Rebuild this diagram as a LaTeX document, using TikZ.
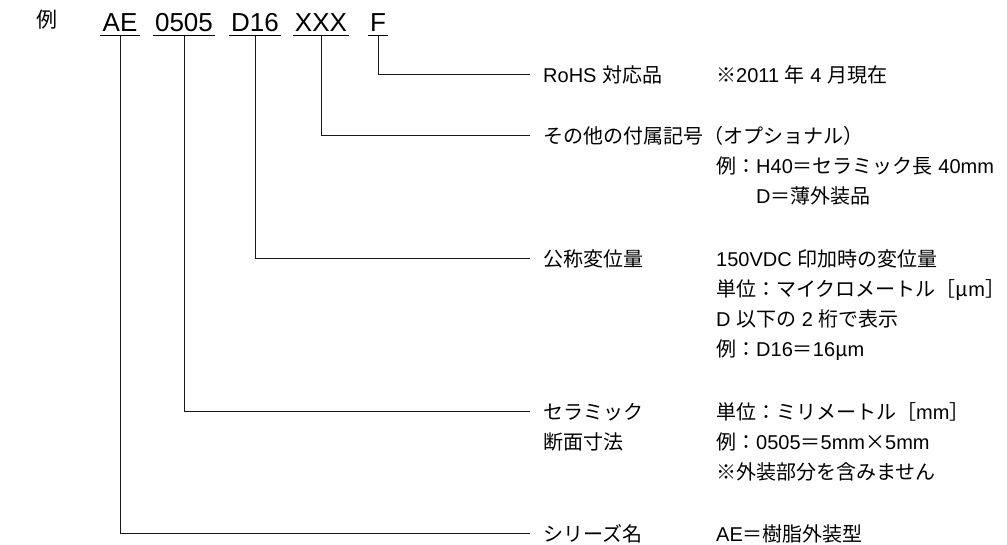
\documentclass[tikz,border=0pt]{standalone}
\usepackage{fontspec}
\setmainfont{Liberation Sans}
\newfontfamily\jp{Noto Sans CJK JP}
\begin{document}
\begin{tikzpicture}[x=1pt,y=-1pt,
  code/.style={inner xsep=2pt,inner ysep=0pt,anchor=base,font=\fontsize{26}{30}\selectfont},
  lbl/.style={inner sep=0pt,anchor=base west,font=\fontsize{20}{24}\selectfont},
  conn/.style={line width=1pt,draw=black!90},
  uline/.style={line width=1.6pt,draw=black}]
\useasboundingbox (0,0) rectangle (1007,544);

% heading
\node[inner sep=0pt,anchor=base west,font=\jp\fontsize{21}{24}\selectfont] (rei) at (36,27) {例};

% code parts
\node[code] (cAE) at (120,31) {AE};
\node[code] (c0505) at (184,31) {0505};
\node[code] (cD16) at (255,31) {D16};
\node[code] (cXXX) at (321,31) {XXX};
\node[code] (cF) at (378,31) {F};

\foreach \n in {cAE,c0505,cD16,cXXX,cF}{
  \draw[uline] ([yshift=-4.5pt]\n.base west) -- ([yshift=-4.5pt]\n.base east);
}

% connector ends
\coordinate (eF) at (530,74);
\coordinate (eXXX) at (530,135);
\coordinate (eD16) at (530,258);
\coordinate (e0505) at (530,411);
\coordinate (eAE) at (530,533);

\draw[conn] ([yshift=-4.5pt]cF.base) |- (eF);
\draw[conn] ([yshift=-4.5pt]cXXX.base) |- (eXXX);
\draw[conn] ([yshift=-4.5pt]cD16.base) |- (eD16);
\draw[conn] ([yshift=-4.5pt]c0505.base) |- (e0505);
\draw[conn] ([yshift=-4.5pt]cAE.base) |- (eAE);

% F
\node[lbl] (lF) at (543,82) {RoHS {\jp 対応品}};
\node[lbl] (nF) at (716,82) {{\jp ※}2011 {\jp 年} 4 {\jp 月現在}};

% XXX
\node[lbl] (lXXX) at (543,143) {\jp その他の付属記号（オプショナル）};
\node[lbl] (nXXXa) at (716,173) {{\jp 例：}H40{\jp ＝セラミック長} 40mm};
\node[lbl] (nXXXb) at (756,203) {D{\jp ＝薄外装品}};

% D16
\node[lbl] (lD16) at (543,266) {\jp 公称変位量};
\node[lbl] (nDa) at (716,266) {150VDC {\jp 印加時の変位量}};
\node[lbl] (nDb) at (716,296) {{\jp 単位：マイクロメートル［μ}m{\jp ］}};
\node[lbl] (nDc) at (716,326) {D {\jp 以下の} 2 {\jp 桁で表示}};
\node[lbl] (nDd) at (716,356) {{\jp 例：}D16{\jp ＝}16{\jp μ}m};

% 0505
\node[lbl] (l05a) at (543,419) {\jp セラミック};
\node[lbl] (l05b) at (543,449) {\jp 断面寸法};
\node[lbl] (n05a) at (716,419) {{\jp 単位：ミリメートル［}mm{\jp ］}};
\node[lbl] (n05b) at (716,449) {{\jp 例：}0505{\jp ＝}5mm{\jp ×}5mm};
\node[lbl] (n05c) at (716,479) {\jp ※外装部分を含みません};

% AE
\node[lbl] (lAE) at (543,541) {\jp シリーズ名};
\node[lbl] (nAE) at (716,541) {AE{\jp ＝樹脂外装型}};
\end{tikzpicture}
\end{document}
